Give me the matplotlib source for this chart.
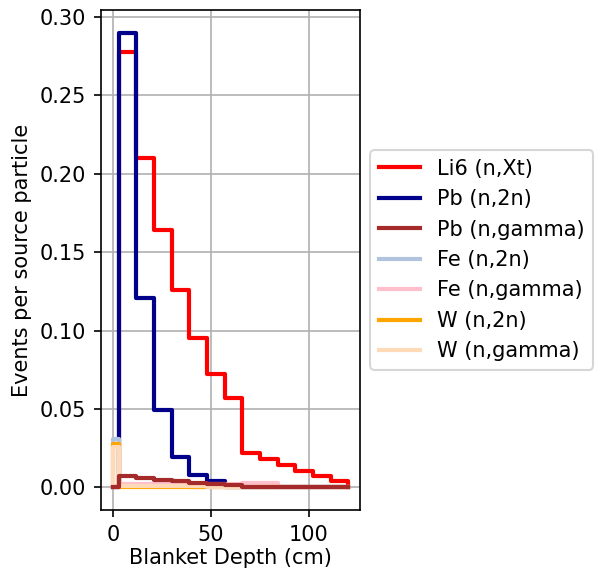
import numpy as np
import matplotlib
matplotlib.use("Agg")
import matplotlib.pyplot as plt

# Depth bin edges through the breeding blanket (cm)
depth_edges = [0, 3, 12, 21, 30, 39, 48, 57, 66, 75, 84, 93, 102, 111, 120]

# Reaction rates per bin (events per source particle)
li6_nxt = [0.0, 0.278, 0.210, 0.164, 0.126, 0.095, 0.072, 0.057,
           0.022, 0.018, 0.0145, 0.0104, 0.0072, 0.0043]
pb_n2n = [0.0, 0.290, 0.121, 0.0495, 0.0195, 0.008, 0.004, 0.0004,
          0.0002, 0.0001, 0.0, 0.0, 0.0, 0.0]
pb_ngamma = [0.0, 0.007, 0.0059, 0.0049, 0.0038, 0.0028, 0.0021, 0.0013,
             0.0004, 0.0003, 0.0002, 0.0001, 0.0001, 0.0001]
fe_n2n = [0.031, 0.0015, 0.0012, 0.0008, 0.0005, 0.0003, 0.0002, 0.0001,
          0.0, 0.0, 0.0, 0.0, 0.0, 0.0]
fe_ngamma = [0.001, 0.0023, 0.0023, 0.0023, 0.0023, 0.0023, 0.0023, 0.0024,
             0.0027, 0.0026, 0.0002, 0.0001, 0.0001, 0.0]
w_n2n = [0.0275, 0.0001, 0.0, 0.0, 0.0, 0.0, 0.0, 0.0,
         0.0, 0.0, 0.0, 0.0, 0.0, 0.0]
w_ngamma = [0.026, 0.0008, 0.0008, 0.0007, 0.0006, 0.0005, 0.0004, 0.0003,
            0.0002, 0.0001, 0.0001, 0.0, 0.0, 0.0]

labels = ["Li6 (n,Xt)", "Pb (n,2n)", "Pb (n,gamma)", "Fe (n,2n)",
          "Fe (n,gamma)", "W (n,2n)", "W (n,gamma)"]
series = [li6_nxt, pb_n2n, pb_ngamma, fe_n2n, fe_ngamma, w_n2n, w_ngamma]
colors = ["red", "darkblue", "brown", "lightsteelblue", "pink",
          "orange", "peachpuff"]
zorders = [2, 2, 2.6, 2, 2, 2, 2]

fig = plt.figure(figsize=(604 / 150, 571 / 150), dpi=150)
ax = fig.add_axes([101 / 604, 1 - 510 / 571, 259 / 604, 500 / 571])

edges = np.asarray(depth_edges, dtype=float)
x = np.r_[edges[0], edges]
for vals, lab, col, z in zip(series, labels, colors, zorders):
    y = np.r_[0.0, vals, 0.0]
    ax.step(x, y, where="post", color=col, lw=2, label=lab, zorder=z)

ax.grid(True)
ax.set_axisbelow(True)
ax.set_xlabel("Blanket Depth (cm)", labelpad=1.5)
ax.set_ylabel("Events per source particle")
ax.legend(loc="center left", bbox_to_anchor=(1, 0.5))

fig.savefig("out.png", dpi=150)
